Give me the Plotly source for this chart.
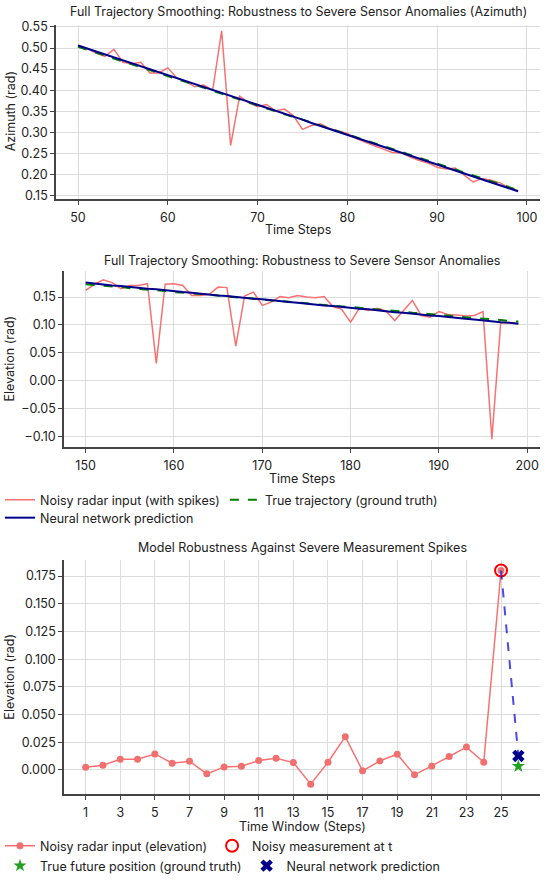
import plotly.graph_objects as go

# ---- data ----
t_az = list(range(50, 100))
az_noisy = [0.507, 0.499, 0.488, 0.480, 0.497, 0.466, 0.463, 0.466, 0.441, 0.441,
            0.453, 0.429, 0.421, 0.408, 0.412, 0.400, 0.541, 0.269, 0.386, 0.370,
            0.361, 0.366, 0.351, 0.355, 0.339, 0.307, 0.316, 0.320, 0.309, 0.303,
            0.297, 0.285, 0.276, 0.268, 0.260, 0.252, 0.251, 0.241, 0.233, 0.227,
            0.217, 0.213, 0.215, 0.199, 0.182, 0.190, 0.186, 0.180, 0.168, 0.162]
az_true = [0.503, 0.496, 0.489, 0.482, 0.475, 0.468, 0.461, 0.454, 0.447, 0.441,
           0.434, 0.427, 0.420, 0.413, 0.406, 0.399, 0.392, 0.385, 0.378, 0.371,
           0.364, 0.357, 0.350, 0.343, 0.336, 0.330, 0.323, 0.316, 0.309, 0.302,
           0.295, 0.288, 0.281, 0.274, 0.267, 0.260, 0.253, 0.246, 0.239, 0.232,
           0.225, 0.219, 0.212, 0.205, 0.198, 0.191, 0.184, 0.177, 0.170, 0.163]
az_pred = [0.506, 0.499, 0.492, 0.485, 0.478, 0.471, 0.464, 0.457, 0.450, 0.442,
           0.435, 0.428, 0.421, 0.414, 0.407, 0.400, 0.393, 0.386, 0.379, 0.372,
           0.365, 0.358, 0.351, 0.344, 0.337, 0.330, 0.322, 0.315, 0.308, 0.301,
           0.294, 0.287, 0.280, 0.273, 0.266, 0.259, 0.252, 0.245, 0.238, 0.231,
           0.224, 0.217, 0.210, 0.202, 0.195, 0.188, 0.181, 0.174, 0.167, 0.160]

t_el = list(range(150, 200))
el_noisy = [0.162, 0.173, 0.181, 0.176, 0.165, 0.171, 0.171, 0.174, 0.031, 0.173,
            0.174, 0.171, 0.153, 0.153, 0.155, 0.168, 0.167, 0.062, 0.152, 0.159,
            0.135, 0.141, 0.151, 0.149, 0.153, 0.150, 0.149, 0.151, 0.133, 0.128,
            0.105, 0.130, 0.126, 0.130, 0.125, 0.108, 0.126, 0.144, 0.117, 0.114,
            0.124, 0.119, 0.118, 0.116, 0.117, 0.124, -0.105, 0.104, 0.104, 0.102]
el_true = [0.173, 0.172, 0.170, 0.169, 0.168, 0.166, 0.165, 0.163, 0.162, 0.161,
           0.159, 0.158, 0.157, 0.155, 0.154, 0.153, 0.151, 0.150, 0.148, 0.147,
           0.146, 0.144, 0.143, 0.142, 0.140, 0.139, 0.137, 0.136, 0.135, 0.133,
           0.132, 0.131, 0.129, 0.128, 0.126, 0.125, 0.124, 0.122, 0.121, 0.120,
           0.118, 0.117, 0.115, 0.114, 0.113, 0.111, 0.110, 0.109, 0.107, 0.106]
el_pred = [0.176, 0.174, 0.173, 0.171, 0.170, 0.168, 0.167, 0.165, 0.164, 0.162,
           0.161, 0.159, 0.158, 0.156, 0.155, 0.153, 0.152, 0.150, 0.149, 0.147,
           0.146, 0.144, 0.143, 0.141, 0.140, 0.138, 0.137, 0.135, 0.134, 0.132,
           0.131, 0.129, 0.128, 0.126, 0.125, 0.123, 0.122, 0.120, 0.119, 0.117,
           0.116, 0.114, 0.113, 0.111, 0.110, 0.108, 0.107, 0.105, 0.104, 0.102]

win_steps = list(range(1, 26))
win_noisy = [0.0024, 0.0042, 0.0096, 0.0096, 0.0144, 0.0060, 0.0078, -0.0036, 0.0027, 0.0033,
             0.0084, 0.0105, 0.0066, -0.0129, 0.0069, 0.0300, -0.0009, 0.0081, 0.0141, -0.0045,
             0.0036, 0.0120, 0.0206, 0.0069, 0.1800]
win_ticks = win_steps[::2]
next_step = 26
true_next = 0.0033
pred_next = 0.0126

FONT = "Inter"
RED = "#f87171"
W, H = 550, 881

fig = go.Figure()

# top: azimuth
fig.add_trace(go.Scatter(x=t_az, y=az_noisy, mode="lines", line=dict(color=RED, width=1.5),
                         showlegend=False, xaxis="x", yaxis="y"))
fig.add_trace(go.Scatter(x=t_az, y=az_true, mode="lines", line=dict(color="#008000", width=2, dash="dash"),
                         showlegend=False, xaxis="x", yaxis="y"))
fig.add_trace(go.Scatter(x=t_az, y=az_pred, mode="lines", line=dict(color="#00008b", width=2),
                         showlegend=False, xaxis="x", yaxis="y"))

# middle: elevation
fig.add_trace(go.Scatter(x=t_el, y=el_noisy, mode="lines", line=dict(color=RED, width=1.5),
                         name="Noisy radar input (with spikes)", legend="legend", xaxis="x2", yaxis="y2"))
fig.add_trace(go.Scatter(x=t_el, y=el_true, mode="lines", line=dict(color="#008000", width=2, dash="dash"),
                         name="True trajectory (ground truth)", legend="legend", xaxis="x2", yaxis="y2"))
fig.add_trace(go.Scatter(x=t_el, y=el_pred, mode="lines", line=dict(color="#00008b", width=2),
                         name="Neural network prediction", legend="legend2", xaxis="x2", yaxis="y2"))

# bottom: window
fig.add_trace(go.Scatter(x=win_steps, y=win_noisy, mode="lines+markers",
                         line=dict(color=RED, width=1.5), marker=dict(color="#f07070", size=7),
                         name="Noisy radar input (elevation)", legend="legend3", xaxis="x3", yaxis="y3"))
fig.add_trace(go.Scatter(x=[win_steps[-1]], y=[win_noisy[-1]], mode="markers",
                         marker=dict(symbol="circle-open", color="red", size=12, line=dict(width=2)),
                         name="Noisy measurement at t", legend="legend3", xaxis="x3", yaxis="y3"))
fig.add_trace(go.Scatter(x=[win_steps[-1], next_step], y=[win_noisy[-1], pred_next], mode="lines",
                         line=dict(color="rgba(30,30,220,0.8)", width=2, dash="dash"),
                         showlegend=False, xaxis="x3", yaxis="y3"))
fig.add_trace(go.Scatter(x=[next_step], y=[true_next], mode="markers",
                         marker=dict(symbol="star", color="#22a022", size=10),
                         name="True future position (ground truth)", legend="legend4", xaxis="x3", yaxis="y3"))
fig.add_trace(go.Scatter(x=[next_step], y=[pred_next], mode="markers",
                         marker=dict(symbol="x", color="#00008b", size=11),
                         name="Neural network prediction", legend="legend4", xaxis="x3", yaxis="y3"))

axis_style = dict(showline=True, linecolor="#444", linewidth=1.5, ticks="outside", ticklen=4,
                  tickcolor="#444", showgrid=True, gridcolor="#dcdcdc", gridwidth=1, zeroline=False,
                  tickfont=dict(size=12.5, color="#222"), automargin=False)

legend_style = dict(orientation="h", x=0, xanchor="left", yanchor="middle",
                    font=dict(size=12.5), bgcolor="rgba(0,0,0,0)", tracegroupgap=0)

fig.update_layout(
    width=W, height=H, template="none",
    paper_bgcolor="white", plot_bgcolor="white",
    margin=dict(l=0, r=0, t=0, b=0),
    font=dict(family=FONT, size=12, color="#222"),
    xaxis=dict(domain=[56 / W, 540 / W], range=[47.55, 101.45], dtick=10, anchor="y",
               ticklabelstandoff=2, **axis_style),
    yaxis=dict(domain=[1 - 200 / H, 1 - 25 / H], range=[0.142, 0.555], dtick=0.05, tickformat=".2f",
               anchor="x", **axis_style),
    xaxis2=dict(domain=[64 / W, 540 / W], range=[147.55, 201.45], dtick=10, anchor="y2",
                ticklabelstandoff=2, **axis_style),
    yaxis2=dict(domain=[1 - 450 / H, 1 - 273 / H], range=[-0.1197, 0.196], dtick=0.05, tickformat=".2f",
                anchor="x2", **axis_style),
    xaxis3=dict(domain=[64 / W, 540 / W], range=[-0.25, 27.25], tickvals=win_ticks, anchor="y3",
                ticklabelstandoff=2, **axis_style),
    yaxis3=dict(domain=[1 - 799 / H, 1 - 563 / H], range=[-0.0222, 0.1897], dtick=0.025, tickformat=".3f",
                anchor="x3", **axis_style),
    legend=dict(y=1 - 503 / H, **legend_style),
    legend2=dict(y=1 - 521 / H, **legend_style),
    legend3=dict(y=1 - 851 / H, **legend_style),
    legend4=dict(y=1 - 871 / H, **legend_style),
)

titles = [
    ("Full Trajectory Smoothing: Robustness to Severe Sensor Anomalies (Azimuth)", 298, 12),
    ("Full Trajectory Smoothing: Robustness to Severe Sensor Anomalies", 302, 262),
    ("Model Robustness Against Severe Measurement Spikes", 302, 551),
]
for text, cx, cy in titles:
    fig.add_annotation(text=text, x=cx / W, y=1 - cy / H, xref="paper", yref="paper",
                       showarrow=False, font=dict(size=12.5), xanchor="center", yanchor="middle")

xtitles = [("Time Steps", 298, 231), ("Time Steps", 302, 481), ("Time Window (Steps)", 302, 831)]
for text, cx, cy in xtitles:
    fig.add_annotation(text=text, x=cx / W, y=1 - cy / H, xref="paper", yref="paper",
                       showarrow=False, font=dict(size=12.5), xanchor="center", yanchor="middle")

ytitles = [("Azimuth (rad)", 10, 112), ("Elevation (rad)", 9.5, 361), ("Elevation (rad)", 9.5, 681)]
for text, cx, cy in ytitles:
    fig.add_annotation(text=text, x=cx / W, y=1 - cy / H, xref="paper", yref="paper", textangle=-90,
                       showarrow=False, font=dict(size=12.5), xanchor="center", yanchor="middle")

# drop the default page margin so the figure sits at the window's corner
fig.write_html("out.html", config={"displayModeBar": False},
               post_script="document.body.style.margin='0';")
